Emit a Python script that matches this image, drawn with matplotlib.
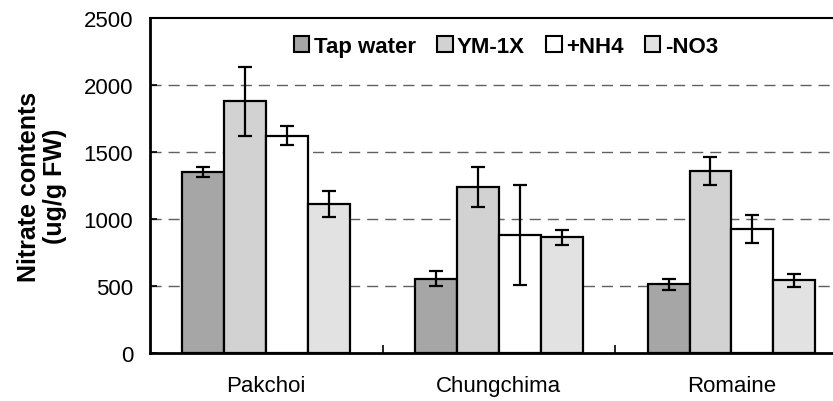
import numpy as np
import matplotlib
matplotlib.use('Agg')
import matplotlib.pyplot as plt

plt.rcParams['font.family'] = ['Liberation Sans', 'DejaVu Sans']

crops = ['Pakchoi', 'Chungchima', 'Romaine']
treatments = ['Tap water', 'YM-1X', '+NH4', '-NO3']

# nitrate contents (ug/g FW), rows = treatments, cols = crops
means = [
    [1350, 555, 512],
    [1878, 1240, 1358],
    [1622, 878, 928],
    [1112, 862, 542],
]
errors = [
    [40, 55, 42],
    [255, 150, 105],
    [73, 373, 105],
    [100, 57, 48],
]

colors = ['#a6a6a6', '#d2d2d2', '#ffffff', '#e2e2e2']

fig = plt.figure(figsize=(8.33, 4.02), dpi=100)
ax = fig.add_axes([0.18, 0.1194, 0.82, 0.8333])

x = np.arange(len(crops))
width = 0.18
offsets = [-1.5, -0.5, 0.5, 1.5]

ax.set_axisbelow(True)
for y in [500, 1000, 1500, 2000]:
    ax.axhline(y, color='#606060', lw=1.0, dashes=(8, 5), zorder=0)

for i, name in enumerate(treatments):
    ax.bar(x + offsets[i] * width, means[i], width, color=colors[i],
           edgecolor='black', linewidth=1.6, label=name, zorder=2)
    ax.errorbar(x + offsets[i] * width, means[i], yerr=errors[i], fmt='none',
                ecolor='black', elinewidth=1.6, capsize=5, capthick=1.6, zorder=3)

ax.set_xlim(-0.5, 2.437)
ax.set_ylim(0, 2500)
ax.set_yticks([0, 500, 1000, 1500, 2000, 2500])
ax.set_xticks(x)
ax.set_xticklabels(crops)
ax.set_xticks([0.5, 1.5], minor=True)

ax.tick_params(axis='x', which='major', length=0, pad=16, labelsize=16)
ax.tick_params(axis='x', which='minor', direction='in', length=6, width=1.2)
ax.tick_params(axis='y', direction='in', length=5, width=1.2, pad=12, labelsize=16)

ax.spines['right'].set_visible(False)
ax.spines['left'].set_linewidth(2)
ax.spines['bottom'].set_linewidth(2)
ax.spines['top'].set_linewidth(1.5)

ax.set_ylabel('Nitrate contents\n(ug/g FW)', fontsize=18, fontweight='bold',
              labelpad=12, linespacing=1.1)

leg = ax.legend(loc='center', bbox_to_anchor=(0.521, 0.916), ncol=4, frameon=False,
                handlelength=0.7, handleheight=0.7, handletextpad=0.2,
                columnspacing=0.95, prop={'weight': 'bold', 'size': 16})
for h in leg.legend_handles:
    h.set_linewidth(1.5)

fig.savefig('out.png', dpi=100)
